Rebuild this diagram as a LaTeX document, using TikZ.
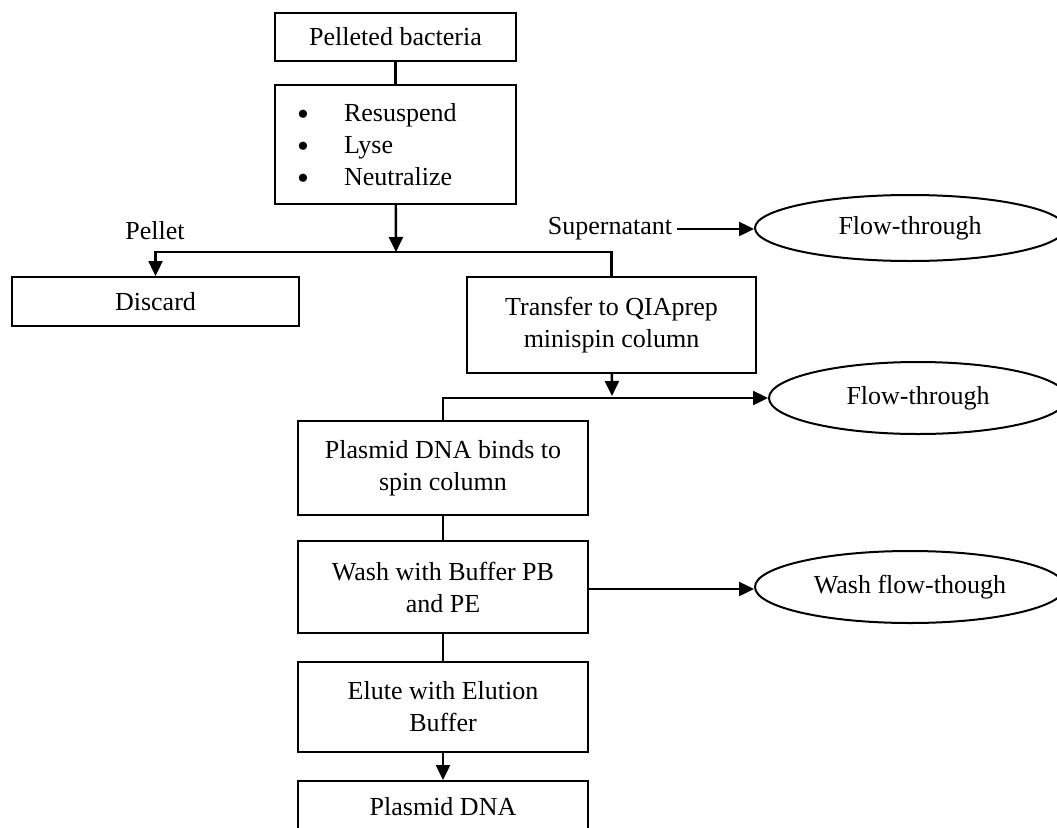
\documentclass[tikz,border=0pt]{standalone}
\usepackage{fontspec}
\setmainfont{Liberation Serif}
\usetikzlibrary{arrows.meta,shapes.geometric}
\tikzset{>={Triangle[length=15pt,width=14pt]}}
\tikzset{
  box/.style={draw, line width=2pt, rectangle, align=center, inner sep=0pt},
  blob/.style={draw, line width=2pt, ellipse, inner sep=0pt},
  lab/.style={inner sep=5pt},
  link/.style={line width=2.4pt}
}
\newcommand{\stepdot}{\makebox[47pt][l]{\smash{\raisebox{-4pt}{\fontsize{34}{32}\selectfont\textbullet}}}}

\begin{document}
\begin{tikzpicture}[x=1pt,y=-1pt,font=\fontsize{26}{32}\selectfont]
    \useasboundingbox (0,0) rectangle (1057,827);
    \clip (0,0) rectangle (1057,827);

    % main column
    \node[box, minimum width=241pt, minimum height=48pt] (bact) at (395.5,37) {Pelleted bacteria};
    \node[box, minimum width=241pt, minimum height=119pt, align=left, inner xsep=22pt, text width=197pt] (steps) at (395.5,144.5)
        {\stepdot Resuspend\\ \stepdot Lyse\\ \stepdot Neutralize};
    \node[box, minimum width=287pt, minimum height=49pt] (discard) at (155.5,301.5) {Discard};
    \node[box, minimum width=289pt, minimum height=96pt] (transfer) at (611.5,325) {Transfer to QIAprep\\minispin column};
    \node[box, minimum width=290pt, minimum height=94pt] (binds) at (443,468) {Plasmid DNA binds to\\spin column};
    \node[box, minimum width=290pt, minimum height=92pt] (wash) at (443,587) {Wash with Buffer PB\\and PE};
    \node[box, minimum width=290pt, minimum height=90pt] (elute) at (443,707) {Elute with Elution\\Buffer};
    \node[box, minimum width=290pt, minimum height=52pt] (dna) at (443,807) {Plasmid DNA};

    % side outputs
    \node[blob, minimum width=310pt, minimum height=66pt] (flowA) at (910,228) {Flow-through};
    \node[blob, minimum width=298pt, minimum height=72pt] (flowB) at (918,398) {Flow-through};
    \node[blob, minimum width=310pt, minimum height=72pt] (washout) at (910,587) {Wash flow-though};

    % labels
    \node[lab] (pellet) at (155,231) {Pellet};
    \node[lab] (super) at (610,229) {Supernatant};

    % junctions
    \coordinate (splitA) at (396,252);
    \coordinate (splitB) at (612,396);

    % connectors
    \draw[link] (bact) -- (steps);
    \draw[link,->] (steps) -- (splitA);
    \draw[link,->] (splitA) -| (discard.north);
    \draw[link] (splitA) -| (transfer.north);
    \draw[link,->] (super) -- (super -| flowA.west);
    \draw[link,->] (transfer) -- (splitB);
    \draw[link,->] (binds.north) |- (flowB.west);
    \draw[link] (binds) -- (wash);
    \draw[link,->] (wash.east |- 0,589) -- (washout.west |- 0,589);
    \draw[link] (wash) -- (elute);
    \draw[link,->] (elute) -- (dna);
\end{tikzpicture}
\end{document}
